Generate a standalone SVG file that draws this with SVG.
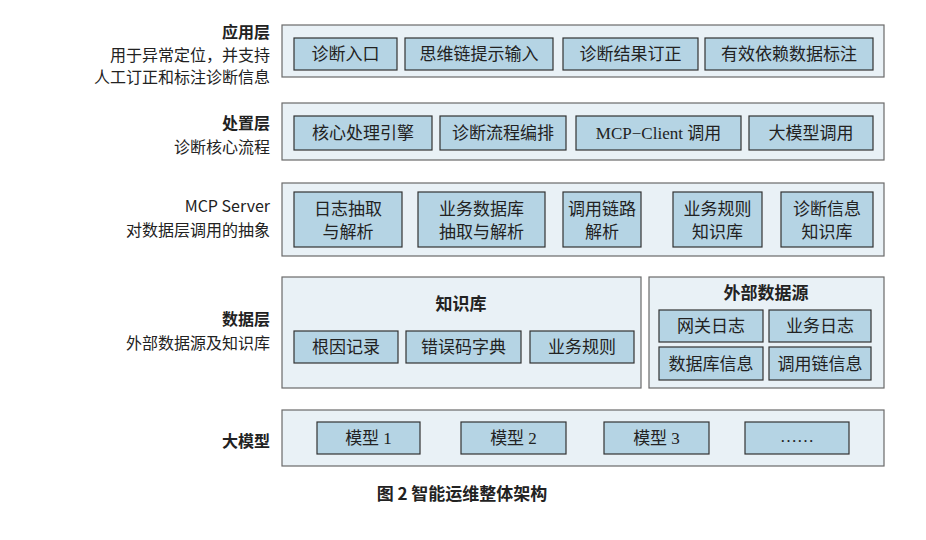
<svg xmlns="http://www.w3.org/2000/svg" width="926" height="540" viewBox="0 0 926 540">
<style>
.o{fill:#e9f1f6;stroke:#6a6a6a;stroke-width:1.2}
.b{fill:#b5d4e4;stroke:#333;stroke-width:1.2}
text{font-family:"Liberation Serif","Noto Sans CJK SC",serif;font-size:17px;fill:#222;text-anchor:middle}
.l{font-family:"Noto Sans CJK SC",sans-serif;text-anchor:end;font-size:16px}
.h{font-weight:bold}
</style>
<rect width="926" height="540" fill="#fff"/>
<g id="app">
<text class="l h" x="270" y="38">应用层</text>
<text class="l" x="270" y="61">用于异常定位，并支持</text>
<text class="l" x="270" y="83">人工订正和标注诊断信息</text>
<rect class="o" x="282" y="25" width="602" height="52"/>
<rect class="b" x="294" y="38" width="103" height="32"/><text x="345.5" y="60">诊断入口</text>
<rect class="b" x="405" y="38" width="148" height="32"/><text x="479" y="60">思维链提示输入</text>
<rect class="b" x="563" y="38" width="135" height="32"/><text x="630.5" y="60">诊断结果订正</text>
<rect class="b" x="705" y="38" width="168" height="32"/><text x="789" y="60">有效依赖数据标注</text>
</g>
<g id="proc">
<text class="l h" x="270" y="129">处置层</text>
<text class="l" x="270" y="153">诊断核心流程</text>
<rect class="o" x="282" y="103" width="602" height="57"/>
<rect class="b" x="294" y="116" width="138" height="34"/><text x="363" y="139">核心处理引擎</text>
<rect class="b" x="440" y="116" width="126" height="34"/><text x="503" y="139">诊断流程编排</text>
<rect class="b" x="576" y="116" width="165" height="34"/><text x="658.5" y="139">MCP−Client 调用</text>
<rect class="b" x="749" y="116" width="124" height="34"/><text x="811" y="139">大模型调用</text>
</g>
<g id="mcp">
<text class="l" x="270" y="212">MCP Server</text>
<text class="l" x="270" y="236">对数据层调用的抽象</text>
<rect class="o" x="282" y="183" width="602" height="73"/>
<rect class="b" x="294" y="192" width="108" height="55"/><text x="348" y="215">日志抽取</text><text x="348" y="238">与解析</text>
<rect class="b" x="418" y="192" width="127" height="55"/><text x="481.5" y="215">业务数据库</text><text x="481.5" y="238">抽取与解析</text>
<rect class="b" x="563" y="192" width="78" height="55"/><text x="602" y="215">调用链路</text><text x="602" y="238">解析</text>
<rect class="b" x="673" y="192" width="89" height="55"/><text x="717.5" y="215">业务规则</text><text x="717.5" y="238">知识库</text>
<rect class="b" x="781" y="192" width="92" height="55"/><text x="827" y="215">诊断信息</text><text x="827" y="238">知识库</text>
</g>
<g id="data">
<text class="l h" x="270" y="325">数据层</text>
<text class="l" x="270" y="349">外部数据源及知识库</text>
<rect class="o" x="282" y="277" width="359" height="111"/>
<text class="h" x="461" y="310">知识库</text>
<rect class="b" x="294" y="331" width="104" height="32"/><text x="346" y="353">根因记录</text>
<rect class="b" x="406" y="331" width="115" height="32"/><text x="463.5" y="353">错误码字典</text>
<rect class="b" x="530" y="331" width="104" height="32"/><text x="582" y="353">业务规则</text>
<rect class="o" x="649" y="277" width="235" height="111"/>
<text class="h" x="766" y="299">外部数据源</text>
<rect class="b" x="659" y="310" width="104" height="32"/><text x="711" y="332">网关日志</text>
<rect class="b" x="769" y="310" width="102" height="32"/><text x="820" y="332">业务日志</text>
<rect class="b" x="659" y="347" width="104" height="33"/><text x="711" y="370">数据库信息</text>
<rect class="b" x="769" y="347" width="102" height="33"/><text x="820" y="370">调用链信息</text>
</g>
<g id="llm">
<text class="l h" x="270" y="447">大模型</text>
<rect class="o" x="282" y="410" width="602" height="56"/>
<rect class="b" x="317" y="422" width="103" height="32"/><text x="368.5" y="444">模型 1</text>
<rect class="b" x="461" y="422" width="105" height="32"/><text x="513.5" y="444">模型 2</text>
<rect class="b" x="604" y="422" width="105" height="32"/><text x="656.5" y="444">模型 3</text>
<rect class="b" x="745" y="422" width="104" height="32"/><text x="797" y="442">……</text>
</g>
<g id="connectors"/>
<text class="h" x="462" y="500" style="font-family:'Noto Sans CJK SC',sans-serif">图 2  智能运维整体架构</text>
</svg>
